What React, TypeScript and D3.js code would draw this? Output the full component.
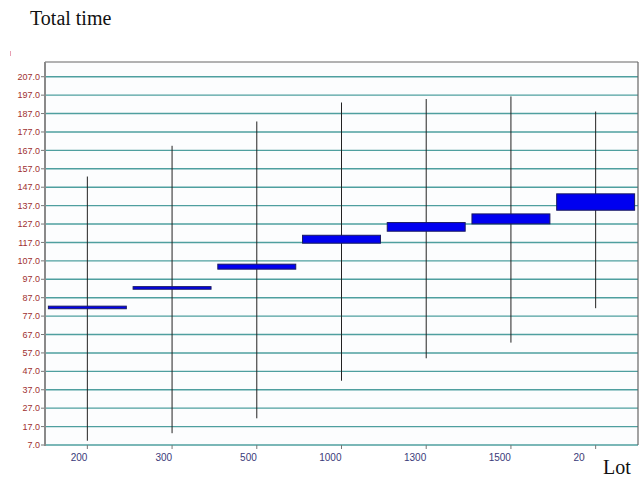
import React from "react";
import * as d3 from "d3";

const categories = ["200", "300", "500", "1000", "1300", "1500", "2000"];
const whiskerLow = [9.3, 13.4, 21.5, 41.9, 54.1, 62.6, 81.3];
const whiskerHigh = [152.8, 169.5, 182.7, 193.0, 194.9, 196.3, 188.1];
const boxLow = [81.0, 91.6, 102.5, 116.6, 123.1, 127.1, 134.5];
const boxHigh = [82.4, 93.0, 105.2, 120.9, 127.8, 132.5, 143.4];
const yTicks = [7, 17, 27, 37, 47, 57, 67, 77, 87, 97, 107, 117, 127, 137, 147, 157, 167, 177, 187, 197, 207];

const W = 644, H = 477;
const L = 45, R = 638, T = 62, B = 445;

export default function App() {
  const x = d3.scaleBand<string>().domain(categories).range([L, R]).padding(0);
  const y = d3.scaleLinear().domain([7, 215]).range([B, T]);
  const fmt = d3.format(".1f");
  const bw = x.bandwidth();
  const boxW = bw * 0.92;
  return (
    <svg width={W} height={H} style={{ position: "absolute", left: 0, top: 0, background: "#fff" }}>
      <defs>
        <clipPath id="xlabclip">
          <rect x={0} y={0} width={585} height={H} />
        </clipPath>
      </defs>
      <rect x={0} y={0} width={W} height={H} fill="#ffffff" />
      <text x={30} y={25} fontFamily="'Liberation Serif', 'Times New Roman', serif" fontSize={20} fill="#111">Total time</text>
      <line x1={10.5} x2={10.5} y1={51} y2={56} stroke="#e8a0b4" strokeWidth={1} />
      <rect x={L} y={T} width={R - L} height={B - T} fill="#fcfdfe" />
      {yTicks.map((t) => (
        <g key={t}>
          <line x1={L} x2={R} y1={y(t)} y2={y(t)} stroke="#4f9f9f" strokeWidth={1.4} />
          <line x1={L - 4} x2={L} y1={y(t)} y2={y(t)} stroke="#777" strokeWidth={1} />
          <text x={40} y={y(t)} dy="0.35em" textAnchor="end" fontFamily="Arial, 'Liberation Sans', sans-serif" fontSize={9} fill="#a03030">{fmt(t)}</text>
        </g>
      ))}
      <line x1={R} x2={R} y1={T} y2={B} stroke="#666" strokeWidth={1.2} />
      <line x1={L} x2={R} y1={T} y2={T} stroke="#666" strokeWidth={1.2} />
      <line x1={L} x2={L} y1={T} y2={B + 1} stroke="#8a8a8a" strokeWidth={2} />
      {categories.map((c, i) => {
        const cx = (x(c) as number) + bw / 2;
        return (
          <g key={c}>
            <line x1={cx} x2={cx} y1={y(whiskerLow[i])} y2={y(whiskerHigh[i])} stroke="#222" strokeWidth={1} />
            <rect x={cx - boxW / 2} y={y(boxHigh[i])} width={boxW} height={Math.max(1.5, y(boxLow[i]) - y(boxHigh[i]))} fill="#0000f0" stroke="#1a1a60" strokeWidth={1} />
            <line x1={cx} x2={cx} y1={B} y2={B + 4} stroke="#777" strokeWidth={1} />
            <text x={cx} y={461} textAnchor="end" clipPath="url(#xlabclip)" fontFamily="Arial, 'Liberation Sans', sans-serif" fontSize={10} fill="#3a3a7a">{c}</text>
          </g>
        );
      })}
      <text x={603} y={474} fontFamily="'Liberation Serif', 'Times New Roman', serif" fontSize={20} fill="#111">Lot</text>
    </svg>
  );
}
